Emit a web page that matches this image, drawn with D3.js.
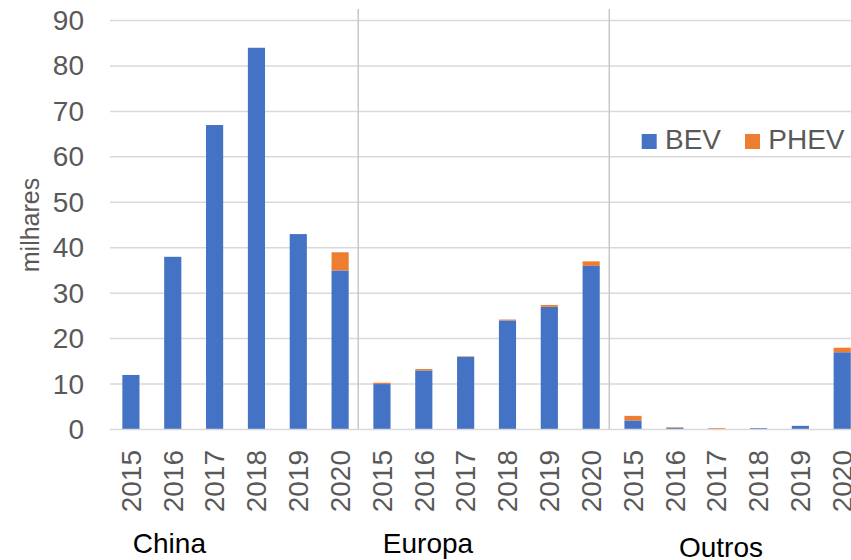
<!DOCTYPE html>
<html>
<head>
<meta charset="utf-8">
<script src="https://cdn.jsdelivr.net/npm/d3@7"></script>
<style>
  html, body { margin: 0; padding: 0; background: #fff; overflow: hidden; }
  svg { display: block; font-family: "Liberation Sans", Arial, sans-serif; }
</style>
</head>
<body>
<svg id="chart" width="851" height="560"></svg>
<script>
// ---- data ----
const regions = ["China", "Europa", "Outros"];
const years = ["2015", "2016", "2017", "2018", "2019", "2020"];
const bevChina  = [12, 38, 67, 84, 43, 35];
const phevChina = [0, 0, 0, 0, 0, 4];
const bevEuropa  = [10, 13, 16, 24, 27, 36];
const phevEuropa = [0.3, 0.3, 0.1, 0.2, 0.4, 1];
const bevOutros  = [2, 0.4, 0.1, 0.3, 0.8, 17];
const phevOutros = [1, 0.1, 0.2, 0, 0, 1];
const seriesNames = ["BEV", "PHEV"];
const yTicks = [0, 10, 20, 30, 40, 50, 60, 70, 80, 90];
const yLabel = "milhares";

// ---- build table ----
const bevByRegion = { China: bevChina, Europa: bevEuropa, Outros: bevOutros };
const phevByRegion = { China: phevChina, Europa: phevEuropa, Outros: phevOutros };
const rows = [];
regions.forEach(r => years.forEach((y, i) => {
  rows.push({ key: r + "-" + y, region: r, year: y, BEV: bevByRegion[r][i], PHEV: phevByRegion[r][i] });
}));

// ---- layout ----
const colors = { BEV: "#4472C4", PHEV: "#ED7D31" };
const textColor = "#595959";
const gridColor = "#d9d9d9";
const plotLeft = 110, slot = 41.84, plotTop = 20.5, plotBottom = 429.5;
const svg = d3.select("#chart");

const x = d3.scaleBand().domain(rows.map(d => d.key))
  .range([plotLeft, plotLeft + slot * rows.length]).padding(0);
const y = d3.scaleLinear().domain([0, 90]).range([plotBottom, plotTop]);
const barW = x.bandwidth() * 0.41;

// gridlines
svg.append("g").selectAll("line").data(yTicks.filter(t => t > 0)).join("line")
  .attr("x1", plotLeft).attr("x2", 851)
  .attr("y1", d => y(d)).attr("y2", d => y(d))
  .attr("stroke", gridColor).attr("stroke-width", 1.5);

// y axis labels
const yAxis = d3.axisLeft(y).tickValues(yTicks).tickSize(0).tickPadding(0);
const gy = svg.append("g").attr("transform", `translate(${plotLeft - 26},0)`).call(yAxis);
gy.select(".domain").remove();
gy.selectAll("text").attr("fill", textColor).attr("font-size", 28)
  .attr("font-family", "'Liberation Sans', Arial, sans-serif");

// y title
svg.append("text").attr("transform", `translate(39,225) rotate(-90)`)
  .attr("text-anchor", "middle").attr("fill", textColor).attr("font-size", 25)
  .text(yLabel);

// stacked bars
const stack = d3.stack().keys(seriesNames);
const stacked = stack(rows);
svg.append("g").selectAll("g").data(stacked).join("g")
  .attr("fill", d => colors[d.key])
  .selectAll("rect").data(d => d).join("rect")
  .attr("x", d => x(d.data.key) + (x.bandwidth() - barW) / 2)
  .attr("width", barW)
  .attr("y", d => y(d[1]))
  .attr("height", d => Math.max(0, y(d[0]) - y(d[1])));

// separators between regions
const sepOffset = -2.8;
svg.append("g").selectAll("line").data(regions.slice(1)).join("line")
  .attr("x1", r => x(r + "-" + years[0]) + sepOffset)
  .attr("x2", r => x(r + "-" + years[0]) + sepOffset)
  .attr("y1", 9).attr("y2", plotBottom)
  .attr("stroke", "#c8c8c8").attr("stroke-width", 1.5);

// x axis line
svg.append("line").attr("x1", plotLeft).attr("x2", 851)
  .attr("y1", plotBottom).attr("y2", plotBottom)
  .attr("stroke", gridColor).attr("stroke-width", 1.5);

// year labels
const xAxis = d3.axisBottom(x).tickSize(0).tickFormat(k => k.split("-")[1]);
const gx = svg.append("g").attr("transform", `translate(0,${plotBottom})`).call(xAxis);
gx.select(".domain").remove();
gx.selectAll("text").attr("fill", textColor).attr("font-size", 28)
  .attr("font-family", "'Liberation Sans', Arial, sans-serif")
  .attr("text-anchor", "end")
  .attr("transform", "translate(0,20.5) rotate(-90)")
  .attr("x", 0).attr("y", 0).attr("dy", "0.35em");

// region labels
const regionLabelPos = { China: [169.4, 552.7], Europa: [428, 552.7], Outros: [721, 556.7] };
svg.append("g").selectAll("text").data(regions).join("text")
  .attr("x", r => regionLabelPos[r][0]).attr("y", r => regionLabelPos[r][1])
  .attr("text-anchor", "middle").attr("fill", "#000").attr("font-size", 28)
  .text(r => r);

// legend
const legendPos = { BEV: 641.7, PHEV: 745 };
const lg = svg.append("g").selectAll("g").data(seriesNames).join("g")
  .attr("transform", s => `translate(${legendPos[s]},134)`);
lg.append("rect").attr("width", 15).attr("height", 15).attr("fill", s => colors[s]);
lg.append("text").attr("x", 23.3).attr("y", 15.3).attr("fill", textColor)
  .attr("font-size", 28).text(s => s);
</script>
</body>
</html>
